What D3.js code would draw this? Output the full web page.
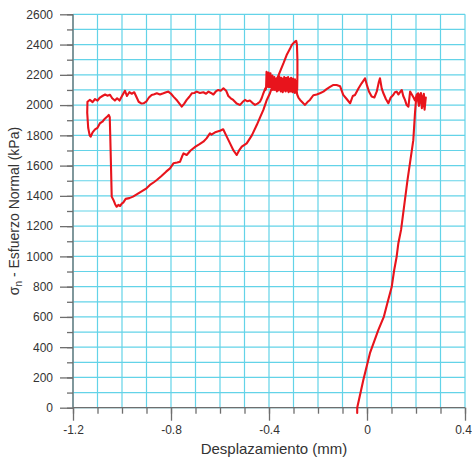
<!DOCTYPE html>
<html><head><meta charset="utf-8">
<script src="https://cdn.jsdelivr.net/npm/d3@7"></script>
<style>body{margin:0;background:#fff}svg{display:block}</style>
</head><body>
<script>
// Axis definitions
const xTicks = [-1.2, -0.8, -0.4, 0, 0.4];
const xTickLabels = ["-1.2", "-0.8", "-0.4", "0", "0.4"];
const yTicks = [0, 200, 400, 600, 800, 1000, 1200, 1400, 1600, 1800, 2000, 2200, 2400, 2600];
const xTitle = "Desplazamiento (mm)";
const yTitleMain = " - Esfuerzo Normal (kPa)";

// Data segments [displacement mm, normal stress kPa], in drawing order
const loading = [[-0.040,-35],[-0.040,0],[-0.015,183],[0.012,360],[0.046,513],[0.069,602],[0.083,690],[0.101,800],[0.111,910],[0.121,998],[0.128,1087],[0.139,1175],[0.165,1500],[0.189,1768],[0.196,1950],[0.200,2030]];
const endNoise = [[0.205,2060],[0.212,1995],[0.218,2070],[0.224,1980],[0.230,2065],[0.235,1970],[0.240,2050],[0.236,2000],[0.232,2075],[0.226,1990],[0.220,2080],[0.214,2040]];
const upperPass = [[0.209,2078],[0.203,2070],[0.196,2030],[0.190,2050],[0.183,2070],[0.176,2089],[0.169,1990],[0.162,2000],[0.155,2034],[0.148,2060],[0.142,2100],[0.135,2085],[0.128,2070],[0.121,2089],[0.114,2085],[0.107,2067],[0.097,2050],[0.087,2012],[0.077,2040],[0.067,2078],[0.060,2110],[0.053,2177],[0.048,2150],[0.040,2090],[0.030,2050],[0.019,2056],[0.008,2090],[0.000,2130],[-0.008,2177],[-0.022,2144],[-0.035,2110],[-0.049,2067],[-0.058,2060],[-0.069,2012],[-0.083,2040],[-0.097,2067],[-0.110,2125],[-0.124,2133],[-0.137,2133],[-0.151,2120],[-0.165,2105],[-0.178,2089],[-0.190,2080],[-0.205,2070],[-0.219,2065],[-0.233,2034],[-0.243,2020],[-0.253,2001],[-0.260,2012],[-0.273,2034],[-0.280,2050],[-0.285,2070],[-0.290,2130],[-0.295,2080],[-0.300,2140],[-0.305,2090],[-0.310,2150],[-0.315,2100],[-0.320,2155],[-0.325,2110],[-0.330,2165],[-0.335,2115],[-0.340,2150],[-0.345,2110],[-0.350,2160],[-0.355,2100],[-0.360,2150],[-0.365,2120],[-0.370,2170],[-0.375,2120],[-0.380,2150],[-0.384,2110],[-0.389,2160],[-0.393,2130],[-0.397,2200],[-0.401,2120],[-0.405,2210],[-0.409,2122],[-0.415,2110],[-0.423,2078],[-0.430,2045],[-0.437,2022],[-0.447,2010],[-0.457,2001],[-0.468,2015],[-0.478,2030],[-0.488,2025],[-0.498,2034],[-0.508,2020],[-0.518,2001],[-0.532,2010],[-0.546,2034],[-0.556,2045],[-0.566,2060],[-0.575,2095],[-0.586,2111],[-0.597,2095],[-0.607,2100],[-0.617,2090],[-0.627,2070],[-0.637,2080],[-0.647,2089],[-0.657,2075],[-0.668,2085],[-0.682,2080],[-0.695,2089],[-0.705,2080],[-0.715,2078],[-0.725,2055],[-0.736,2034],[-0.746,2010],[-0.756,1990],[-0.775,2030],[-0.790,2056],[-0.800,2075],[-0.811,2089],[-0.820,2085],[-0.831,2078],[-0.845,2070],[-0.858,2078],[-0.868,2072],[-0.879,2067],[-0.890,2050],[-0.900,2025],[-0.912,2012],[-0.920,2010],[-0.932,2022],[-0.940,2050],[-0.950,2085],[-0.960,2075],[-0.970,2085],[-0.980,2060],[-0.988,2095],[-1.000,2060],[-1.010,2030],[-1.020,2045],[-1.029,2030],[-1.040,2045],[-1.049,2068],[-1.060,2062],[-1.069,2070],[-1.080,2060],[-1.090,2050],[-1.100,2030],[-1.110,2040],[-1.120,2020],[-1.131,2034],[-1.141,2022]];
const lowerPass = [[-1.142,1950],[-1.138,1850],[-1.132,1800],[-1.128,1791],[-1.120,1820],[-1.110,1840],[-1.100,1850],[-1.090,1880],[-1.080,1890],[-1.070,1910],[-1.060,1925],[-1.054,1935],[-1.050,1920],[-1.048,1800],[-1.045,1600],[-1.042,1395],[-1.035,1373],[-1.028,1345],[-1.022,1328],[-1.015,1340],[-1.008,1333],[-1.000,1350],[-0.995,1355],[-0.985,1380],[-0.970,1385],[-0.955,1395],[-0.940,1410],[-0.920,1430],[-0.900,1450],[-0.886,1472],[-0.870,1490],[-0.858,1505],[-0.840,1530],[-0.820,1560],[-0.804,1582],[-0.790,1615],[-0.775,1620],[-0.763,1626],[-0.755,1660],[-0.749,1681],[-0.736,1670],[-0.720,1700],[-0.700,1725],[-0.685,1740],[-0.668,1758],[-0.655,1780],[-0.641,1813],[-0.635,1805],[-0.620,1820],[-0.600,1830],[-0.587,1840],[-0.575,1800],[-0.560,1750],[-0.545,1700],[-0.532,1670],[-0.522,1700],[-0.511,1725],[-0.491,1747],[-0.470,1800],[-0.450,1868],[-0.436,1920],[-0.423,1968],[-0.410,2030],[-0.396,2078],[-0.385,2130],[-0.369,2166],[-0.355,2221],[-0.340,2280],[-0.328,2331],[-0.315,2370],[-0.307,2397],[-0.301,2408],[-0.294,2419],[-0.289,2425],[-0.286,2400],[-0.284,2300],[-0.284,2200],[-0.285,2100]];
const peakNoise = [[-0.286,2150],[-0.288,2095],[-0.290,2160],[-0.292,2085],[-0.294,2170],[-0.296,2090],[-0.298,2155],[-0.300,2100],[-0.302,2175],[-0.304,2085],[-0.306,2165],[-0.308,2095],[-0.310,2180],[-0.312,2090],[-0.314,2160],[-0.316,2100],[-0.318,2175],[-0.320,2085],[-0.322,2185],[-0.324,2095],[-0.326,2165],[-0.328,2105],[-0.330,2180],[-0.332,2090],[-0.334,2170],[-0.336,2100],[-0.338,2185],[-0.340,2095],[-0.342,2160],[-0.344,2085],[-0.346,2175],[-0.348,2100],[-0.350,2180],[-0.352,2090],[-0.354,2165],[-0.356,2110],[-0.358,2190],[-0.360,2100],[-0.362,2170],[-0.364,2095],[-0.366,2160],[-0.368,2090],[-0.370,2175],[-0.372,2105],[-0.374,2160],[-0.376,2100],[-0.378,2185],[-0.380,2110],[-0.382,2170],[-0.384,2100],[-0.386,2195],[-0.388,2110],[-0.390,2180],[-0.392,2120],[-0.394,2210],[-0.396,2120],[-0.398,2185],[-0.400,2130],[-0.402,2215],[-0.404,2130],[-0.406,2200],[-0.408,2120],[-0.410,2220],[-0.412,2110],[-0.415,2100]];

const W = 472, H = 459;
const m = {left: 73, right: 7, top: 14.3, bottom: 51.3};
const svg = d3.select("body").append("svg").attr("width", W).attr("height", H);

const x = d3.scaleLinear().domain([-1.2, 0.4]).range([m.left, W - m.right]);
const y = d3.scaleLinear().domain([0, 2600]).range([H - m.bottom, m.top]);

const gridColor = "#63d3e8";
const xMinor = d3.range(-1.2, 0.4001, 0.1).map(v => +v.toFixed(2));
const yMinor = d3.range(0, 2601, 100);

// grid
svg.append("g").selectAll("line").data(xMinor).join("line")
  .attr("x1", d => x(d)).attr("x2", d => x(d))
  .attr("y1", y(0)).attr("y2", y(2600))
  .attr("stroke", gridColor).attr("stroke-width", 1.2);
svg.append("g").selectAll("line").data(yMinor).join("line")
  .attr("x1", x(-1.2)).attr("x2", x(0.4))
  .attr("y1", d => y(d)).attr("y2", d => y(d))
  .attr("stroke", gridColor).attr("stroke-width", 1.2);

// axes
const axisColor = "#6e6e6e";
const textColor = "#333";
const font = "'Liberation Sans', Arial, sans-serif";

const xAxisMinor = d3.axisBottom(x).tickValues(xMinor).tickSize(6).tickFormat("");
const xAxisMajor = d3.axisBottom(x).tickValues(xTicks).tickSize(13).tickPadding(5)
  .tickFormat((d, i) => xTickLabels[i]);
const yAxisMinor = d3.axisLeft(y).tickValues(yMinor).tickSize(6).tickFormat("");
const yAxisMajor = d3.axisLeft(y).tickValues(yTicks).tickSize(13).tickPadding(7)
  .tickFormat(d3.format("d"));

function style(g) {
  g.selectAll("path, line").attr("stroke", axisColor).attr("stroke-width", 1.3);
  g.selectAll("text").attr("fill", textColor).style("font-family", font).style("font-size", "12px");
}
svg.append("g").attr("transform", `translate(0,${y(0)})`).call(xAxisMinor).call(style).select(".domain").remove();
const gx = svg.append("g").attr("transform", `translate(0,${y(0)})`).call(xAxisMajor).call(style);
gx.select(".domain").attr("d", `M${x(-1.2)},0H${x(0.4)}`);
gx.selectAll(".tick text").filter(d => d === 0.4).attr("dx", -2);
svg.append("g").attr("transform", `translate(${x(-1.2)},0)`).call(yAxisMinor).call(style).select(".domain").remove();
svg.append("g").attr("transform", `translate(${x(-1.2)},0)`).call(yAxisMajor).call(style)
  .select(".domain").attr("d", `M0,${y(0)}V${y(2600)}`);

// data line
const pts = [].concat(loading, endNoise, upperPass, lowerPass, peakNoise);
const line = d3.line().x(d => x(d[0])).y(d => y(d[1]));
svg.append("path").datum(pts).attr("d", line)
  .attr("fill", "none").attr("stroke", "#e8141c").attr("stroke-width", 2.1)
  .attr("stroke-linejoin", "round").attr("stroke-linecap", "round");

// titles
svg.append("text").attr("x", 274).attr("y", 454).attr("text-anchor", "middle")
  .attr("fill", textColor).style("font-family", font).style("font-size", "15px").text(xTitle);

const yt = svg.append("text").attr("transform", `translate(19,${(y(0)+y(2600))/2}) rotate(-90)`)
  .attr("text-anchor", "middle").attr("fill", textColor)
  .style("font-family", font).style("font-size", "14px");
yt.append("tspan").text("σ");
yt.append("tspan").attr("dy", 3).style("font-size", "10px").text("n");
yt.append("tspan").attr("dy", -3).text(yTitleMain);
</script>
</body></html>
